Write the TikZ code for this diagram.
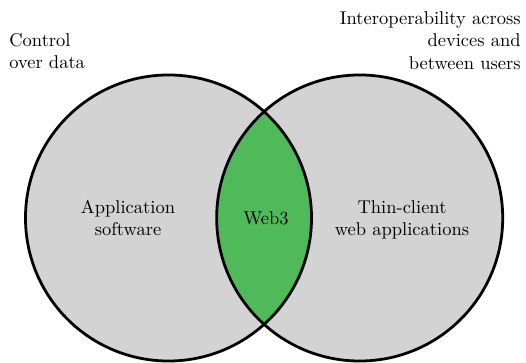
\documentclass[tikz,border=0pt]{standalone}
\usepackage{tikz}
\usetikzlibrary{positioning}
\definecolor{setgray}{RGB}{211,211,211}
\definecolor{webgreen}{RGB}{80,185,90}

\begin{document}
\begin{tikzpicture}[x=0.019cm, y=-0.019cm,
  setline/.style={black, line width=1.5pt},
  lbl/.style={align=center, inner sep=0pt, font=\normalsize}]
\useasboundingbox (0,0) rectangle (526,363);

% Sets
\coordinate (appc) at (168.5,218);
\coordinate (thinc) at (359.7,218);
\fill[setgray] (appc) circle[radius=2.717cm];
\fill[setgray] (thinc) circle[radius=2.717cm];

% Overlap
\begin{scope}
\clip (appc) circle[radius=2.717cm];
\fill[webgreen] (thinc) circle[radius=2.717cm];
\end{scope}

% Outlines
\draw[setline] (appc) circle[radius=2.717cm];
\draw[setline] (thinc) circle[radius=2.717cm];

% Labels
\node[lbl] (appsw) at (128,218) {Application\\software};
\node[lbl] (web3) at (266,218) {Web3};
\node[lbl] (thinweb) at (402,219.5) {Thin-client\\web applications};

% Properties
\node[lbl, align=left, anchor=north west] (control) at (9,33) {Control\\over data};
\node[lbl, align=right, anchor=north east] (interop) at (521,11.5) {Interoperability across\\devices and\\between users};
\end{tikzpicture}
\end{document}
